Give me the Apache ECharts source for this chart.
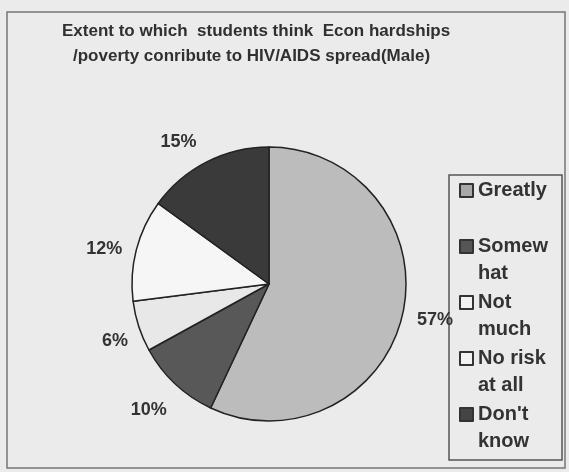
<!DOCTYPE html>
<html>
<head>
<meta charset="utf-8">
<script src="https://cdn.jsdelivr.net/npm/echarts@6/dist/echarts.min.js"></script>
<style>
  html, body { margin: 0; padding: 0; background: #ebebeb; }
  #main { width: 569px; height: 472px; }
</style>
</head>
<body>
<div id="main"></div>
<script>
// categories and values (percent)
const categories = ['Greatly', 'Somewhat', 'Not much', 'No risk at all', "Don't know"]
const legendText = ['Greatly', 'Somew\nhat', 'Not\nmuch', 'No risk\nat all', "Don't\nknow"]
const values = [57, 10, 6, 12, 15]
const colors = ['#bcbcbc', '#585858', '#e8e8e8', '#f6f6f6', '#3a3a3a']
const iconColors = ['#a8a8a8', '#555555', '#f2f2f2', '#f2f2f2', '#444444']
// small nudges for the percent labels (Excel does not place them exactly radially)
const labelNudge = [[6, 0], [-8, 6], [2, 6], [-6, 6], [-16, 4]]

const chart = echarts.init(document.getElementById('main'))

const titleStyle = { fontFamily: 'Liberation Sans', fontSize: 17, fontWeight: 'bold', color: '#303030' }

const option = {
  backgroundColor: '#ebebeb',
  animation: false,
  title: [
    { text: 'Extent to which  students think  Econ hardships', left: 57, top: 18, textStyle: titleStyle },
    { text: '/poverty conribute to HIV/AIDS spread(Male)', left: 68, top: 43, textStyle: titleStyle }
  ],
  graphic: [
    // outer frame
    {
      type: 'rect',
      shape: { x: 7, y: 12, width: 558, height: 456 },
      style: { fill: 'none', stroke: '#777', lineWidth: 1.5 },
      silent: true
    },
    // legend box
    {
      type: 'rect',
      shape: { x: 449, y: 175, width: 113, height: 285 },
      style: { fill: 'none', stroke: '#555', lineWidth: 1.5 },
      silent: true
    }
  ],
  legend: {
    orient: 'vertical',
    left: 459,
    top: 150,
    padding: 0,
    itemGap: -25,
    itemWidth: 13,
    itemHeight: 13,
    icon: 'rect',
    selectedMode: false,
    itemStyle: { borderColor: '#333', borderWidth: 2 },
    data: categories.map((c, i) => ({ name: c, itemStyle: { color: iconColors[i] } })),
    // a blank first line keeps the icon level with the first text line
    formatter: (name) => {
      const t = legendText[categories.indexOf(name)]
      return ' \n' + t + (t.indexOf('\n') < 0 ? '\n ' : '')
    },
    textStyle: {
      fontFamily: 'Liberation Sans',
      fontSize: 20,
      fontWeight: 'bold',
      color: '#333',
      lineHeight: 27
    }
  },
  series: [
    {
      type: 'pie',
      center: [269, 284],
      radius: 137,
      startAngle: 90,
      clockwise: true,
      data: categories.map((c, i) => ({ name: c, value: values[i], itemStyle: { color: colors[i] } })),
      itemStyle: { borderColor: '#222', borderWidth: 1.5 },
      label: { show: false },
      labelLine: { show: false },
      emphasis: { disabled: true },
      silent: true
    },
    {
      // invisible ring, only used to place the percent labels around the pie
      type: 'pie',
      center: [269, 284],
      radius: [150, 172],
      startAngle: 90,
      clockwise: true,
      data: categories.map((c, i) => ({ name: c, value: values[i], label: { offset: labelNudge[i] } })),
      itemStyle: { color: 'transparent', borderWidth: 0 },
      label: {
        show: true,
        position: 'inside',
        formatter: '{d}%',
        fontFamily: 'Liberation Sans',
        fontSize: 18,
        fontWeight: 'bold',
        color: '#333'
      },
      labelLine: { show: false },
      emphasis: { disabled: true },
      silent: true
    }
  ]
}

chart.setOption(option)
</script>
</body>
</html>
